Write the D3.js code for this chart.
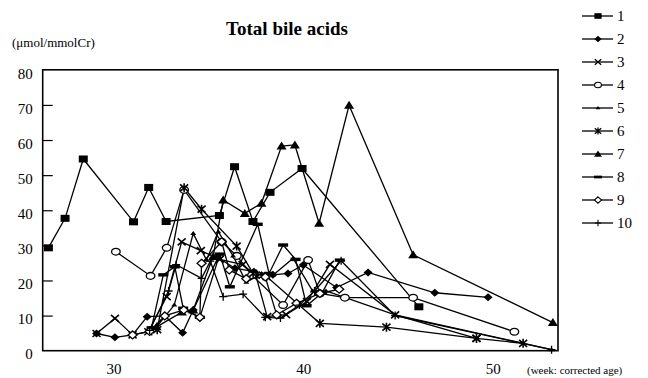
<!DOCTYPE html>
<html>
<head>
<meta charset="utf-8">
<script src="https://cdn.jsdelivr.net/npm/d3@7"></script>
<style>
  body { margin: 0; background: #fff; }
  svg text { font-family: "Liberation Serif", "Times New Roman", serif; fill: #000; }
</style>
</head>
<body>
<div class="chart"></div>
<script>
// Data: [week (corrected age), value (umol/mmolCr)]
var patient1 = [[26.56,29.3],[27.44,37.7],[28.4,54.6],[31.05,36.7],[31.85,46.5],[32.77,36.8],[35.58,38.5],[36.38,52.4],[37.35,36.8],[38.25,45.1],[39.94,51.9],[46.1,12.5]];
var patient2 = [[29.1,4.9],[30.07,3.8],[31.0,4.5],[31.77,9.7],[32.7,9.9],[33.64,5.1],[34.2,11.6],[35.5,26.5],[36.4,23.5],[37.4,22.5],[38.4,21.6],[39.2,22.0],[40.0,24.4],[41.76,18.0],[43.42,22.3],[46.94,16.5],[49.75,15.2]];
var patient3 = [[29.1,4.9],[30.07,9.2],[31.0,4.5],[31.83,5.4],[32.8,15.4],[33.59,31.0],[34.6,28.5],[35.6,26.0],[36.8,24.5],[37.5,21.5],[38.1,9.7],[39.1,10.3],[40.2,14.0],[41.41,24.6],[44.85,10.2],[49.14,3.5]];
var patient4 = [[30.12,28.2],[31.95,21.3],[32.8,29.3],[33.72,45.8],[35.7,31.0],[36.5,27.0],[37.3,21.5],[38.94,13.0],[40.26,25.8],[40.88,16.3],[42.2,15.1],[45.8,15.1],[51.14,5.4]];
var patient5 = [[32.2,6.4],[33.2,13.0],[34.2,33.4],[34.9,25.8],[35.52,33.9],[36.3,27.0],[37.0,19.5],[37.8,22.0],[38.4,21.5],[39.47,26.3],[40.5,17.0],[41.2,17.0],[44.85,10.2],[53.1,0.3]];
var patient6 = [[32.3,6.0],[33.72,46.4],[34.64,40.3],[36.49,29.8],[37.36,22.0],[38.07,21.1],[40.88,7.8],[44.39,6.7],[49.14,3.5],[51.6,2.1]];
var patient7 = [[32.27,6.8],[33.6,11.0],[34.2,11.6],[35.25,26.8],[35.78,42.9],[36.92,39.1],[37.8,42.0],[38.86,58.3],[39.56,58.6],[40.84,36.3],[42.42,69.9],[45.8,27.3],[53.17,8.0]];
var patient8 = [[32.0,6.5],[32.62,21.6],[33.23,23.9],[33.67,12.1],[34.55,9.5],[35.6,27.5],[36.13,18.2],[37.6,36.0],[38.2,22.0],[38.94,30.1],[39.6,26.0],[40.18,12.8],[41.0,16.5],[41.93,25.8]];
var patient9 = [[31.0,4.5],[31.9,5.5],[32.7,9.9],[33.7,11.6],[34.55,9.5],[34.64,24.9],[35.7,31.0],[36.1,23.0],[37.0,20.5],[38.0,21.0],[38.6,10.2],[39.65,13.5],[40.88,16.3],[41.9,17.5]];
var patient10 = [[31.9,5.8],[32.9,17.0],[33.3,24.5],[34.64,20.6],[35.1,25.5],[35.78,15.4],[36.83,16.1],[38.0,9.5],[38.8,9.3],[39.8,13.0],[40.6,17.0],[42.0,25.6],[44.85,10.0],[53.1,0.3]];

var seriesNames = ['1','2','3','4','5','6','7','8','9','10'];
var markerTypes = ['square','diamond','x','circle','dot','star','triangle','dash','odiamond','plus'];
var yTicks = [0,10,20,30,40,50,60,70,80];
var xTicks = [30,40,50];

var allSeries = [patient1,patient2,patient3,patient4,patient5,patient6,patient7,patient8,patient9,patient10];

// draw one marker shape centred on the group origin
function drawMarker(g, type) {
  switch (type) {
    case 'square':
      g.append('rect').attr('x',-4.5).attr('y',-3.5).attr('width',9).attr('height',7).attr('fill','#000');
      break;
    case 'diamond':
      g.append('path').attr('d','M0,-4L4.5,0L0,4L-4.5,0Z').attr('fill','#000');
      break;
    case 'x':
      g.append('path').attr('d','M-4,-3.5L4,3.5M-4,3.5L4,-3.5').attr('stroke','#000').attr('stroke-width',1.6);
      break;
    case 'circle':
      g.append('ellipse').attr('rx',4.3).attr('ry',3.4).attr('fill','#fff').attr('stroke','#000').attr('stroke-width',1.3);
      break;
    case 'dot':
      g.append('path').attr('d','M0,-2.5L3,1.5L-3,1.5Z').attr('fill','#000');
      break;
    case 'star':
      g.append('path').attr('d','M-4,-3.5L4,3.5M-4,3.5L4,-3.5M0,-4.5L0,4.5').attr('stroke','#000').attr('stroke-width',1.6);
      break;
    case 'triangle':
      g.append('path').attr('d','M0,-4.5L5,3.5L-5,3.5Z').attr('fill','#000');
      break;
    case 'dash':
      g.append('rect').attr('x',-5).attr('y',-1.7).attr('width',10).attr('height',3.4).attr('fill','#000');
      break;
    case 'odiamond':
      g.append('path').attr('d','M0,-4L4.5,0L0,4L-4.5,0Z').attr('fill','#fff').attr('stroke','#000').attr('stroke-width',1.3);
      break;
    case 'plus':
      g.append('path').attr('d','M0,-4L0,4M-4,0L4,0').attr('stroke','#000').attr('stroke-width',1.3);
      break;
  }
}

var width = 648, height = 378;
var plot = { left: 42.7, right: 558, top: 69.8, bottom: 350.7 };

var svg = d3.select('.chart').append('svg')
  .attr('width', width)
  .attr('height', height)
  .style('display','block');

svg.append('rect').attr('width',width).attr('height',height).attr('fill','#fff');

var xScale = d3.scaleLinear().domain([26.26, 53.44]).range([plot.left, plot.right]);
var yScale = d3.scaleLinear().domain([0, 80]).range([plot.bottom, plot.top]);

// plot frame
svg.append('rect')
  .attr('x', plot.left).attr('y', plot.top)
  .attr('width', plot.right - plot.left).attr('height', plot.bottom - plot.top)
  .attr('fill','none').attr('stroke','#000').attr('stroke-width',1.6);

// y axis, ticks pointing inward
var yAxis = d3.axisLeft(yScale).tickValues(yTicks).tickSizeInner(-10).tickSizeOuter(0).tickPadding(10);
var yG = svg.append('g').attr('transform','translate(' + plot.left + ',0)').call(yAxis);
yG.select('.domain').remove();
yG.selectAll('.tick line').attr('stroke','#000').attr('stroke-width',1.2)
  .filter(function(d) { return d === 0 || d === 80; }).remove();
yG.selectAll('.tick text').attr('font-size',15).attr('dy','0.55em')
  .style('font-family','"Liberation Serif", "Times New Roman", serif');

// x axis, labels only
var xAxis = d3.axisBottom(xScale).tickValues(xTicks).tickSize(0).tickPadding(12.5);
var xG = svg.append('g').attr('transform','translate(0,' + plot.bottom + ')').call(xAxis);
xG.select('.domain').remove();
xG.selectAll('.tick text').attr('font-size',15)
  .style('font-family','"Liberation Serif", "Times New Roman", serif');

// series lines then markers
var line = d3.line().x(function(d) { return xScale(d[0]); }).y(function(d) { return yScale(d[1]); });

allSeries.forEach(function(data, i) {
  svg.append('path').datum(data)
    .attr('d', line)
    .attr('fill','none').attr('stroke','#000').attr('stroke-width',1.3);
});
allSeries.forEach(function(data, i) {
  svg.append('g').selectAll('g').data(data).enter().append('g')
    .attr('transform', function(d) { return 'translate(' + xScale(d[0]) + ',' + yScale(d[1]) + ')'; })
    .each(function() { drawMarker(d3.select(this), markerTypes[i]); });
});

// titles
svg.append('text').attr('x',287).attr('y',35).attr('text-anchor','middle')
  .attr('font-size',19).attr('font-weight','bold').text('Total bile acids');
svg.append('text').attr('x',12).attr('y',47).attr('font-size',13).text('(\u03bcmol/mmolCr)');
svg.append('text').attr('x',527).attr('y',374).attr('font-size',11).text('(week: corrected age)');

// legend
var legend = svg.append('g').selectAll('g').data(seriesNames).enter().append('g')
  .attr('transform', function(d, i) { return 'translate(0,' + (16 + i * 23) + ')'; });
legend.append('line').attr('x1',582).attr('x2',613).attr('stroke','#000').attr('stroke-width',1.3);
legend.append('g').attr('transform','translate(598,0) scale(0.8)')
  .each(function(d, i) { drawMarker(d3.select(this), markerTypes[i]); });
legend.append('text').attr('x',617).attr('dy','0.35em').attr('font-size',15).text(function(d) { return d; });
</script>
</body>
</html>
